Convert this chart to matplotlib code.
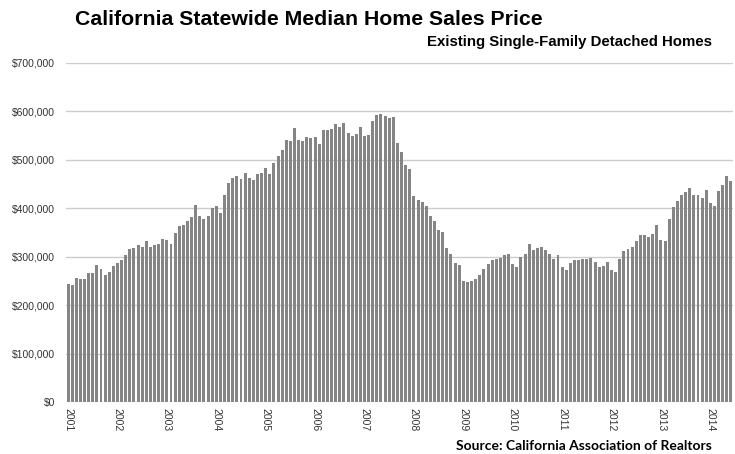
import matplotlib.pyplot as plt
import matplotlib.ticker as mticker

# monthly median price, Jan 2001 - Jun 2014 (in $1000)
prices_2001 = [244, 241, 256, 254, 254, 267, 267, 282, 275, 262, 269, 280]
prices_2002 = [286, 293, 304, 316, 319, 324, 321, 333, 321, 324, 327, 337]
prices_2003 = [335, 326, 350, 363, 366, 373, 381, 406, 384, 377, 384, 401]
prices_2004 = [404, 391, 427, 452, 463, 467, 461, 472, 463, 459, 471, 473]
prices_2005 = [483, 470, 494, 508, 521, 541, 539, 566, 542, 538, 548, 546]
prices_2006 = [548, 533, 561, 561, 563, 574, 567, 576, 556, 550, 553, 568]
prices_2007 = [550, 552, 581, 593, 594, 590, 587, 588, 535, 517, 490, 481]
prices_2008 = [426, 417, 414, 404, 384, 373, 355, 351, 319, 306, 288, 282]
prices_2009 = [250, 247, 250, 253, 262, 274, 285, 293, 296, 297, 304, 306]
prices_2010 = [284, 278, 300, 306, 327, 313, 317, 320, 313, 305, 296, 304]
prices_2011 = [279, 272, 286, 294, 293, 295, 295, 298, 289, 278, 280, 289]
prices_2012 = [272, 269, 295, 311, 315, 320, 333, 344, 344, 340, 346, 365]
prices_2013 = [335, 332, 377, 402, 416, 428, 433, 441, 428, 427, 421, 437]
prices_2014 = [411, 404, 435, 448, 466, 456]

years = list(range(2001, 2015))

prices = (prices_2001 + prices_2002 + prices_2003 + prices_2004 + prices_2005
          + prices_2006 + prices_2007 + prices_2008 + prices_2009 + prices_2010
          + prices_2011 + prices_2012 + prices_2013 + prices_2014)
prices = [p * 1000 for p in prices]

plt.rcParams["font.family"] = ["Liberation Sans", "DejaVu Sans"]

fig = plt.figure(figsize=(7.35, 4.54), dpi=100)
ax = fig.add_axes([66 / 735, 1 - 402 / 454, 667 / 735, 339 / 454])

xpos = range(len(prices))
ax.bar(xpos, prices, width=0.72, color="#858585", zorder=3)

ax.set_xlim(-0.5, len(prices) - 0.5)
ax.set_ylim(0, 700000)
ax.yaxis.set_major_locator(mticker.MultipleLocator(100000))
ax.yaxis.set_major_formatter(mticker.FuncFormatter(lambda v, _: f"${v:,.0f}"))
ax.grid(axis="y", color="#cccccc", linewidth=1, zorder=0)

# year labels at each January
ax.set_xticks([12 * i for i in range(len(years))])
ax.set_xticklabels([str(y) for y in years], rotation=270, fontsize=7.5, color="#333333")
ax.tick_params(axis="y", labelsize=7.5, labelcolor="#333333", length=0, pad=8)
ax.tick_params(axis="x", length=0, pad=4)
for s in ax.spines.values():
    s.set_visible(False)

fig.text(75 / 735, 1 - 19.5 / 454, "California Statewide Median Home Sales Price",
         fontsize=15.3, fontweight="bold", va="center", ha="left")
fig.text(712 / 735, 1 - 42 / 454, "Existing Single-Family Detached Homes",
         fontsize=10.8, fontweight="bold", va="center", ha="right")
fig.text(712 / 735, 1 - 446.5 / 454, "Source: California Association of Realtors",
         fontsize=10, fontweight="bold", family=["Lato", "DejaVu Sans"],
         va="center", ha="right")

fig.savefig("out.png", dpi=100)
